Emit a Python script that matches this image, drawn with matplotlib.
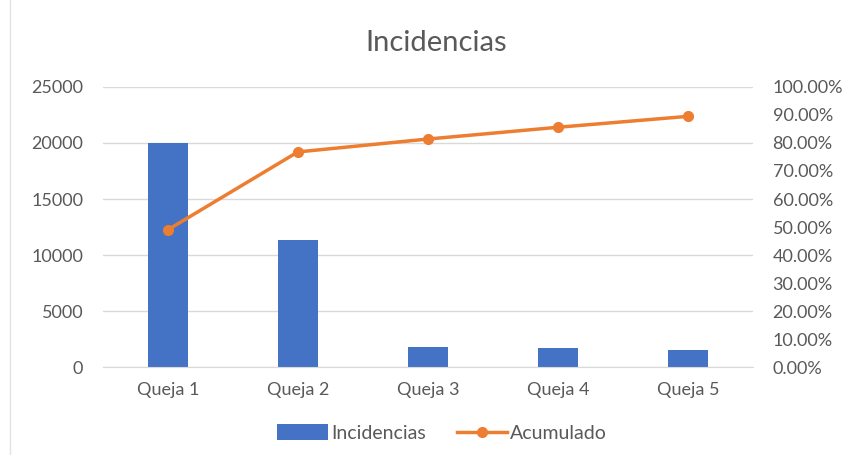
import numpy as np
import matplotlib.pyplot as plt
from matplotlib.ticker import FuncFormatter

plt.rcParams['font.family'] = ['Lato', 'DejaVu Sans']

categorias = ['Queja 1', 'Queja 2', 'Queja 3', 'Queja 4', 'Queja 5']
incidencias = [20000, 11350, 1800, 1750, 1500]
acumulado = [0.49, 0.768, 0.814, 0.856, 0.895]

gris = '#595959'
fig = plt.figure(figsize=(8.49, 4.55), dpi=100)
ax = fig.add_axes([0.121, 0.193, 0.766, 0.616])
ax2 = ax.twinx()

x = np.arange(len(categorias))
b = ax.bar(x, incidencias, width=0.31, color='#4472C4', zorder=2, label='Incidencias')
l, = ax2.plot(x, acumulado, color='#ED7D31', lw=2.5, marker='o', ms=7,
              zorder=3, label='Acumulado')

ax.set_xlim(-0.5, 4.5)
ax.set_ylim(0, 25000)
ax.set_yticks(np.arange(0, 25001, 5000))
ax2.set_ylim(0, 1)
ax2.set_yticks(np.arange(0, 1.01, 0.1))
ax2.yaxis.set_major_formatter(FuncFormatter(lambda v, p: f'{v*100:.2f}%'))

ax.set_xticks(x)
ax.set_xticklabels(categorias)
ax.grid(axis='y', color='#D9D9D9', lw=1, zorder=0)

for a in (ax, ax2):
    for s in a.spines.values():
        s.set_visible(False)
    a.tick_params(length=0, labelsize=13, colors=gris, pad=14)
ax.spines['bottom'].set_visible(True)
ax.spines['bottom'].set_color('#D9D9D9')
ax.tick_params(axis='x', pad=11)
ax2.tick_params(axis='y', pad=14)

fig.text(0.514, 0.905, 'Incidencias', ha='center', va='center', fontsize=21, color=gris)

fig.legend([b, l], ['Incidencias', 'Acumulado'], loc='center', bbox_to_anchor=(0.521, 0.048),
           ncol=2, frameon=False, fontsize=14, labelcolor=gris,
           handlelength=2.6, handleheight=0.9, handletextpad=0.15, columnspacing=1.6)

# faint border line seen at the left of the screenshot
fig.add_artist(plt.Line2D([0.012, 0.012], [0.0, 1.0], color='#E3E3E3', lw=1))

fig.savefig('out.png', dpi=100)
